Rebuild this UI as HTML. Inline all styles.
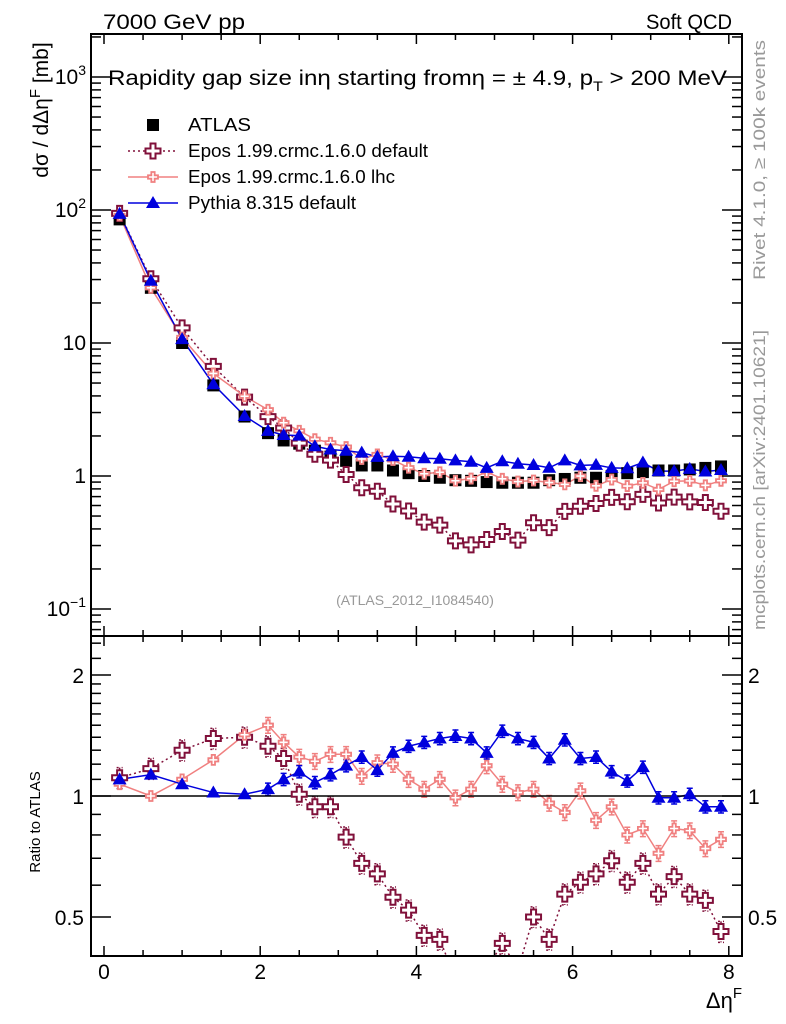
<!DOCTYPE html>
<html><head><meta charset="utf-8">
<style>
html,body{margin:0;padding:0;background:#fff;}
svg{display:block;font-family:"Liberation Sans",sans-serif;}
</style></head>
<body>
<svg id="chart" width="786" height="1024" viewBox="0 0 786 1024" xmlns="http://www.w3.org/2000/svg">
<g id="marks"></g>
<g id="axes"></g>
<text x="103" y="29" font-size="21" textLength="142" lengthAdjust="spacingAndGlyphs">7000 GeV pp</text>
<text x="646" y="29" font-size="21" textLength="86" lengthAdjust="spacingAndGlyphs">Soft QCD</text>
<text x="108" y="85" font-size="21" textLength="619" lengthAdjust="spacingAndGlyphs">Rapidity gap size inη starting fromη = ± 4.9, p<tspan dy="6" font-size="14">T</tspan><tspan dy="-6"> &gt; 200 MeV</tspan></text>
<text transform="translate(48,110) rotate(-90)" font-size="21" text-anchor="middle">dσ / dΔη<tspan dy="-8" font-size="15">F</tspan><tspan dy="8"> [mb]</tspan></text>
<text transform="translate(40,822) rotate(-90)" font-size="15" text-anchor="middle">Ratio to ATLAS</text>
<text x="742" y="1008" font-size="22" text-anchor="end">Δη<tspan dy="-10" font-size="15">F</tspan></text>
<text x="415" y="605" font-size="14" fill="#999" text-anchor="middle">(ATLAS_2012_I1084540)</text>
<text transform="translate(765,160) rotate(-90)" font-size="17" fill="#999" text-anchor="middle" textLength="240" lengthAdjust="spacingAndGlyphs">Rivet 4.1.0, ≥ 100k events</text>
<text transform="translate(765,480) rotate(-90)" font-size="17" fill="#999" text-anchor="middle" textLength="300" lengthAdjust="spacingAndGlyphs">mcplots.cern.ch [arXiv:2401.10621]</text>
<g id="legend"></g>
</svg>
<script>
const xs = [0.2,0.6,1.0,1.4,1.8,2.1,2.3,2.5,2.7,2.9,3.1,3.3,3.5,3.7,3.9,4.1,4.3,4.5,4.7,4.9,5.1,5.3,5.5,5.7,5.9,6.1,6.3,6.5,6.7,6.9,7.1,7.3,7.5,7.7,7.9];
const atlas = [85,26,10,4.8,2.8,2.1,1.85,1.75,1.55,1.4,1.3,1.2,1.2,1.1,1.05,1.0,0.97,0.93,0.92,0.9,0.89,0.89,0.89,0.93,0.95,0.97,0.97,1.0,1.05,1.07,1.1,1.1,1.12,1.15,1.18];
const ratioEposDef = [1.11,1.17,1.30,1.39,1.40,1.33,1.24,1.01,0.94,0.94,0.79,0.68,0.64,0.56,0.52,0.45,0.44,0.35,0.33,0.37,0.43,0.37,0.5,0.44,0.57,0.61,0.64,0.69,0.61,0.68,0.57,0.63,0.57,0.55,0.46];
const ratioEposLhc = [1.07,1.0,1.10,1.23,1.42,1.50,1.36,1.25,1.22,1.27,1.27,1.12,1.21,1.20,1.10,1.04,1.10,0.99,1.04,1.19,1.07,1.02,1.04,0.96,0.91,1.03,0.87,0.94,0.80,0.83,0.72,0.83,0.82,0.74,0.78];
const ratioPythia = [1.10,1.13,1.07,1.02,1.01,1.04,1.10,1.15,1.08,1.13,1.19,1.25,1.16,1.28,1.33,1.36,1.39,1.41,1.39,1.28,1.45,1.39,1.36,1.24,1.38,1.24,1.25,1.15,1.09,1.18,0.99,0.99,1.01,0.94,0.94];
const xTicks = [0,2,4,6,8];
const yTicks = [[1000,"10","3"],[100,"10","2"],[10,"10",""],[1,"1",""],[0.1,"10","−1"]];
const rTicks = [[2,"2"],[1,"1"],[0.5,"0.5"]];

const NS="http://www.w3.org/2000/svg";
const L=91,R=742,T=34,MB=636,RB=956;
const X=v=>104+v*78.1;
const Y=v=>476-133*Math.log10(v);
const RY=v=>796-121*Math.log2(v);
const marks=document.getElementById('marks'), axes=document.getElementById('axes');
function el(tag,attrs,parent){const e=document.createElementNS(NS,tag);for(const k in attrs)e.setAttribute(k,attrs[k]);(parent||marks).appendChild(e);return e;}

const defs=el('defs',{},document.getElementById('chart'));
const c1=el('clipPath',{id:'cm'},defs);el('rect',{x:L,y:T,width:R-L,height:MB-T},c1);
const c2=el('clipPath',{id:'cr'},defs);el('rect',{x:L,y:MB,width:R-L,height:RB-MB},c2);
const gm=el('g',{'clip-path':'url(#cm)'});


const gr=el('g',{'clip-path':'url(#cr)'});



function crossPath(cx,cy,s){const a=s/2,b=s/6;return `M${cx-b},${cy-a}H${cx+b}V${cy-b}H${cx+a}V${cy+b}H${cx+b}V${cy+a}H${cx-b}V${cy+b}H${cx-a}V${cy-b}H${cx-b}Z`;}
function marker(type,cx,cy,g){
  let m;
  if(type==='sq') m=el('rect',{x:cx-6,y:cy-6,width:12,height:12,fill:'#000'},g);
  else if(type==='tri') m=el('path',{d:`M${cx},${cy-7}L${cx+7},${cy+5}L${cx-7},${cy+5}Z`,fill:'#0000dd'},g);
  else if(type==='cd') m=el('path',{d:crossPath(cx,cy,15),fill:'#fff',stroke:'#80103a','stroke-width':2},g);
  else m=el('path',{d:crossPath(cx,cy,10),fill:'#fff',stroke:'#f08080','stroke-width':1.8},g);
  return m;
}
const series=[
 {name:'epos-default',r:ratioEposDef,color:'#80103a',dash:'2,3',type:'cd',err:0.06},
 {name:'epos-lhc',r:ratioEposLhc,color:'#f08080',dash:'',type:'cl',err:0.045},
 {name:'pythia',r:ratioPythia,color:'#0000dd',dash:'',type:'tri',err:0.035}
];
series.forEach(s=>{
  const vals=xs.map((x,i)=>atlas[i]*s.r[i]);
  const ln=el('polyline',{points:xs.map((x,i)=>X(x)+','+Y(vals[i])).join(' '),fill:'none',stroke:s.color,'stroke-width':1.5,'stroke-dasharray':s.dash},gm);
  
  
});
xs.forEach((x,i)=>{const m=marker('sq',X(x),Y(atlas[i]),gm);
  
  });
series.forEach(s=>{xs.forEach((x,i)=>{const m=marker(s.type,X(x),Y(atlas[i]*s.r[i]),gm);
  
  });});
series.forEach(s=>{
  const ln=el('polyline',{points:xs.map((x,i)=>X(x)+','+RY(s.r[i])).join(' '),fill:'none',stroke:s.color,'stroke-width':1.5,'stroke-dasharray':s.dash},gr);
  
  
  xs.forEach((x,i)=>{if(i<5&&s.name!=='epos-default')return;
    const y1=RY(s.r[i]*(1+s.err)),y2=RY(s.r[i]*(1-s.err));
    const e=el('path',{d:`M${X(x)},${y1}V${y2}M${X(x)-3},${y1}h6M${X(x)-3},${y2}h6`,stroke:s.color,'stroke-width':1.5,'stroke-dasharray':s.dash,fill:'none'},gr);
    
    });
});
const one=el('line',{x1:L,x2:R,y1:RY(1),y2:RY(1),stroke:'#000','stroke-width':1.5},gr);


series.forEach(s=>{xs.forEach((x,i)=>{const m=marker(s.type,X(x),RY(s.r[i]),gr);
  
  });});

[[T,MB],[MB,RB]].forEach(([a,b])=>el('rect',{x:L,y:a,width:R-L,height:b-a,fill:'none',stroke:'#000','stroke-width':2},axes));
for(let v=0;v<=8.01;v+=0.5){const maj=Math.abs(v/2-Math.round(v/2))<0.01;const len=maj?10:6;
  [[T,1],[MB,-1],[MB,1],[RB,-1]].forEach(([y,d])=>el('line',{x1:X(v),x2:X(v),y1:y,y2:y+d*len,stroke:'#000','stroke-width':1.5},axes));}
xTicks.forEach(v=>{const t=el('text',{x:X(v),y:979,'font-size':21,'text-anchor':'middle'},axes);t.textContent=v;
  
  });
for(let e=-2;e<=3;e++)for(let k=1;k<=9;k++){const v=k*Math.pow(10,e);const y=Y(v);if(y<T||y>MB)continue;const len=k===1?20:10;
  el('line',{x1:L,x2:L+len,y1:y,y2:y,stroke:'#000','stroke-width':1.5},axes);
  el('line',{x1:R,x2:R-len,y1:y,y2:y,stroke:'#000','stroke-width':1.5},axes);}
yTicks.forEach(([v,b,s])=>{const t=el('text',{x:86,y:Y(v)+7,'font-size':21,'text-anchor':'end'},axes);
  
  
  if(s){t.innerHTML=b+'<tspan dy="-9" font-size="14">'+s+'</tspan>';}else t.textContent=b;});
[0.4,0.5,0.6,0.7,0.8,0.9,1,1.1,1.2,1.3,1.4,1.5,1.6,1.7,1.8,1.9,2,2.2,2.4].forEach(v=>{const y=RY(v);if(y<MB||y>RB)return;
  const len=(v===0.5||v===1||v===2)?20:10;
  el('line',{x1:L,x2:L+len,y1:y,y2:y,stroke:'#000','stroke-width':1.5},axes);
  el('line',{x1:R,x2:R-len,y1:y,y2:y,stroke:'#000','stroke-width':1.5},axes);});
rTicks.forEach(([v,s])=>{
  const t=el('text',{x:84,y:RY(v)+8,'font-size':21,'text-anchor':'end'},axes);t.textContent=s;
  
  
  const t2=el('text',{x:748,y:RY(v)+8,'font-size':21},axes);t2.textContent=s;
  
  });
const lg=document.getElementById('legend');
const entries=[['ATLAS','sq','','',63],['Epos 1.99.crmc.1.6.0 default','cd','#80103a','2,3',240],['Epos 1.99.crmc.1.6.0 lhc','cl','#f08080','',207],['Pythia 8.315 default','tri','#0000dd','',168]];
entries.forEach(([lab,type,col,dash,w],i)=>{const y=125+i*26;
  const g=el('g',{},lg);
  
  
  if(col)el('line',{x1:128,x2:178,y1:y,y2:y,stroke:col,'stroke-width':1.5,'stroke-dasharray':dash},g);
  marker(type,153,y,g);
  const t=el('text',{x:188,y:y+6,'font-size':18,textLength:w,lengthAdjust:'spacingAndGlyphs'},g);t.textContent=lab;});
</script>
</body></html>
